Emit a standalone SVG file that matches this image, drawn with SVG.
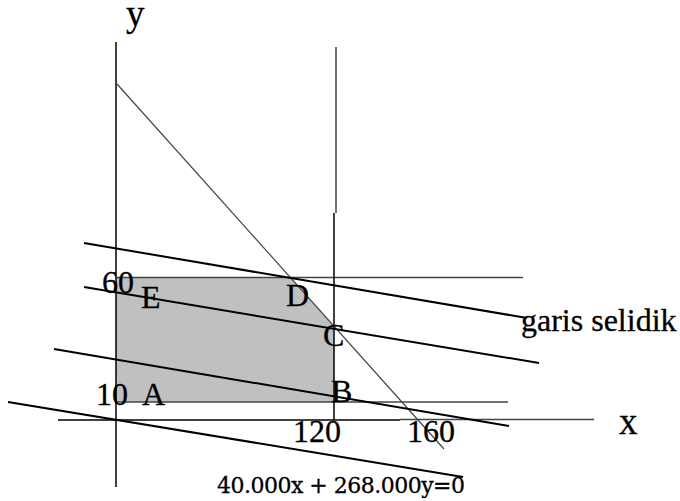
<svg xmlns="http://www.w3.org/2000/svg" width="680" height="501" viewBox="0 0 680 501">
<style>
.axis{stroke:#000;stroke-width:1.5;fill:none}
.grid{stroke:#444;stroke-width:1.5;fill:none}
.diag{stroke:#444;stroke-width:1.2;fill:none}
.sel{stroke:#000;stroke-width:2;fill:none}
.lbl{font-family:"Liberation Serif","Times New Roman",serif;font-size:32px;fill:#000;stroke:#000;stroke-width:0.3}
.big{font-size:37px}
.eq{font-family:"DejaVu Serif",serif;font-size:22px;fill:#000;stroke:#000;stroke-width:0.3}
</style>
<rect width="680" height="501" fill="#fff"/>
<g id="feasible-region">
<polygon points="116,278 291,278 334,326 334,402 116,402" fill="#c0c0c0"/>
</g>
<g id="connectors">
<line class="grid" x1="116" y1="277.5" x2="523" y2="277.5"/>
<line class="grid" x1="116" y1="402" x2="508" y2="402"/>
<line class="axis" x1="116" y1="42" x2="116" y2="487"/>
<line class="axis" x1="58" y1="420" x2="400" y2="420"/>
<line class="grid" x1="400" y1="419.5" x2="594" y2="419.5"/>
<line class="grid" x1="336" y1="47" x2="336" y2="213"/>
<line class="axis" x1="334" y1="213" x2="334" y2="420"/>
<line class="diag" x1="117" y1="84" x2="444" y2="449"/>
<line class="sel" x1="84" y1="243" x2="527" y2="318"/>
<line class="sel" x1="84" y1="287" x2="539" y2="363"/>
<line class="sel" x1="54" y1="349" x2="509" y2="426"/>
<line class="sel" x1="8" y1="402" x2="463" y2="477"/>
</g>
<g id="labels">
<text class="lbl big" x="126" y="26">y</text>
<text class="lbl big" x="619" y="434">x</text>
<text class="lbl" x="102" y="293">60</text>
<text class="lbl" x="141" y="308">E</text>
<text class="lbl" x="286" y="306">D</text>
<text class="lbl" x="323" y="346">C</text>
<text class="lbl" x="96" y="405">10</text>
<text class="lbl" x="142" y="405">A</text>
<text class="lbl" x="331" y="402">B</text>
<text class="lbl" x="293" y="442" font-size="34" textLength="48">120</text>
<text class="lbl" x="407" y="442" font-size="34" textLength="48">160</text>
<text class="lbl" x="521" y="331" font-size="35">garis selidik</text>
<text class="eq" x="217" y="493" textLength="248">40.000x + 268.000y=0</text>
</g>
</svg>
